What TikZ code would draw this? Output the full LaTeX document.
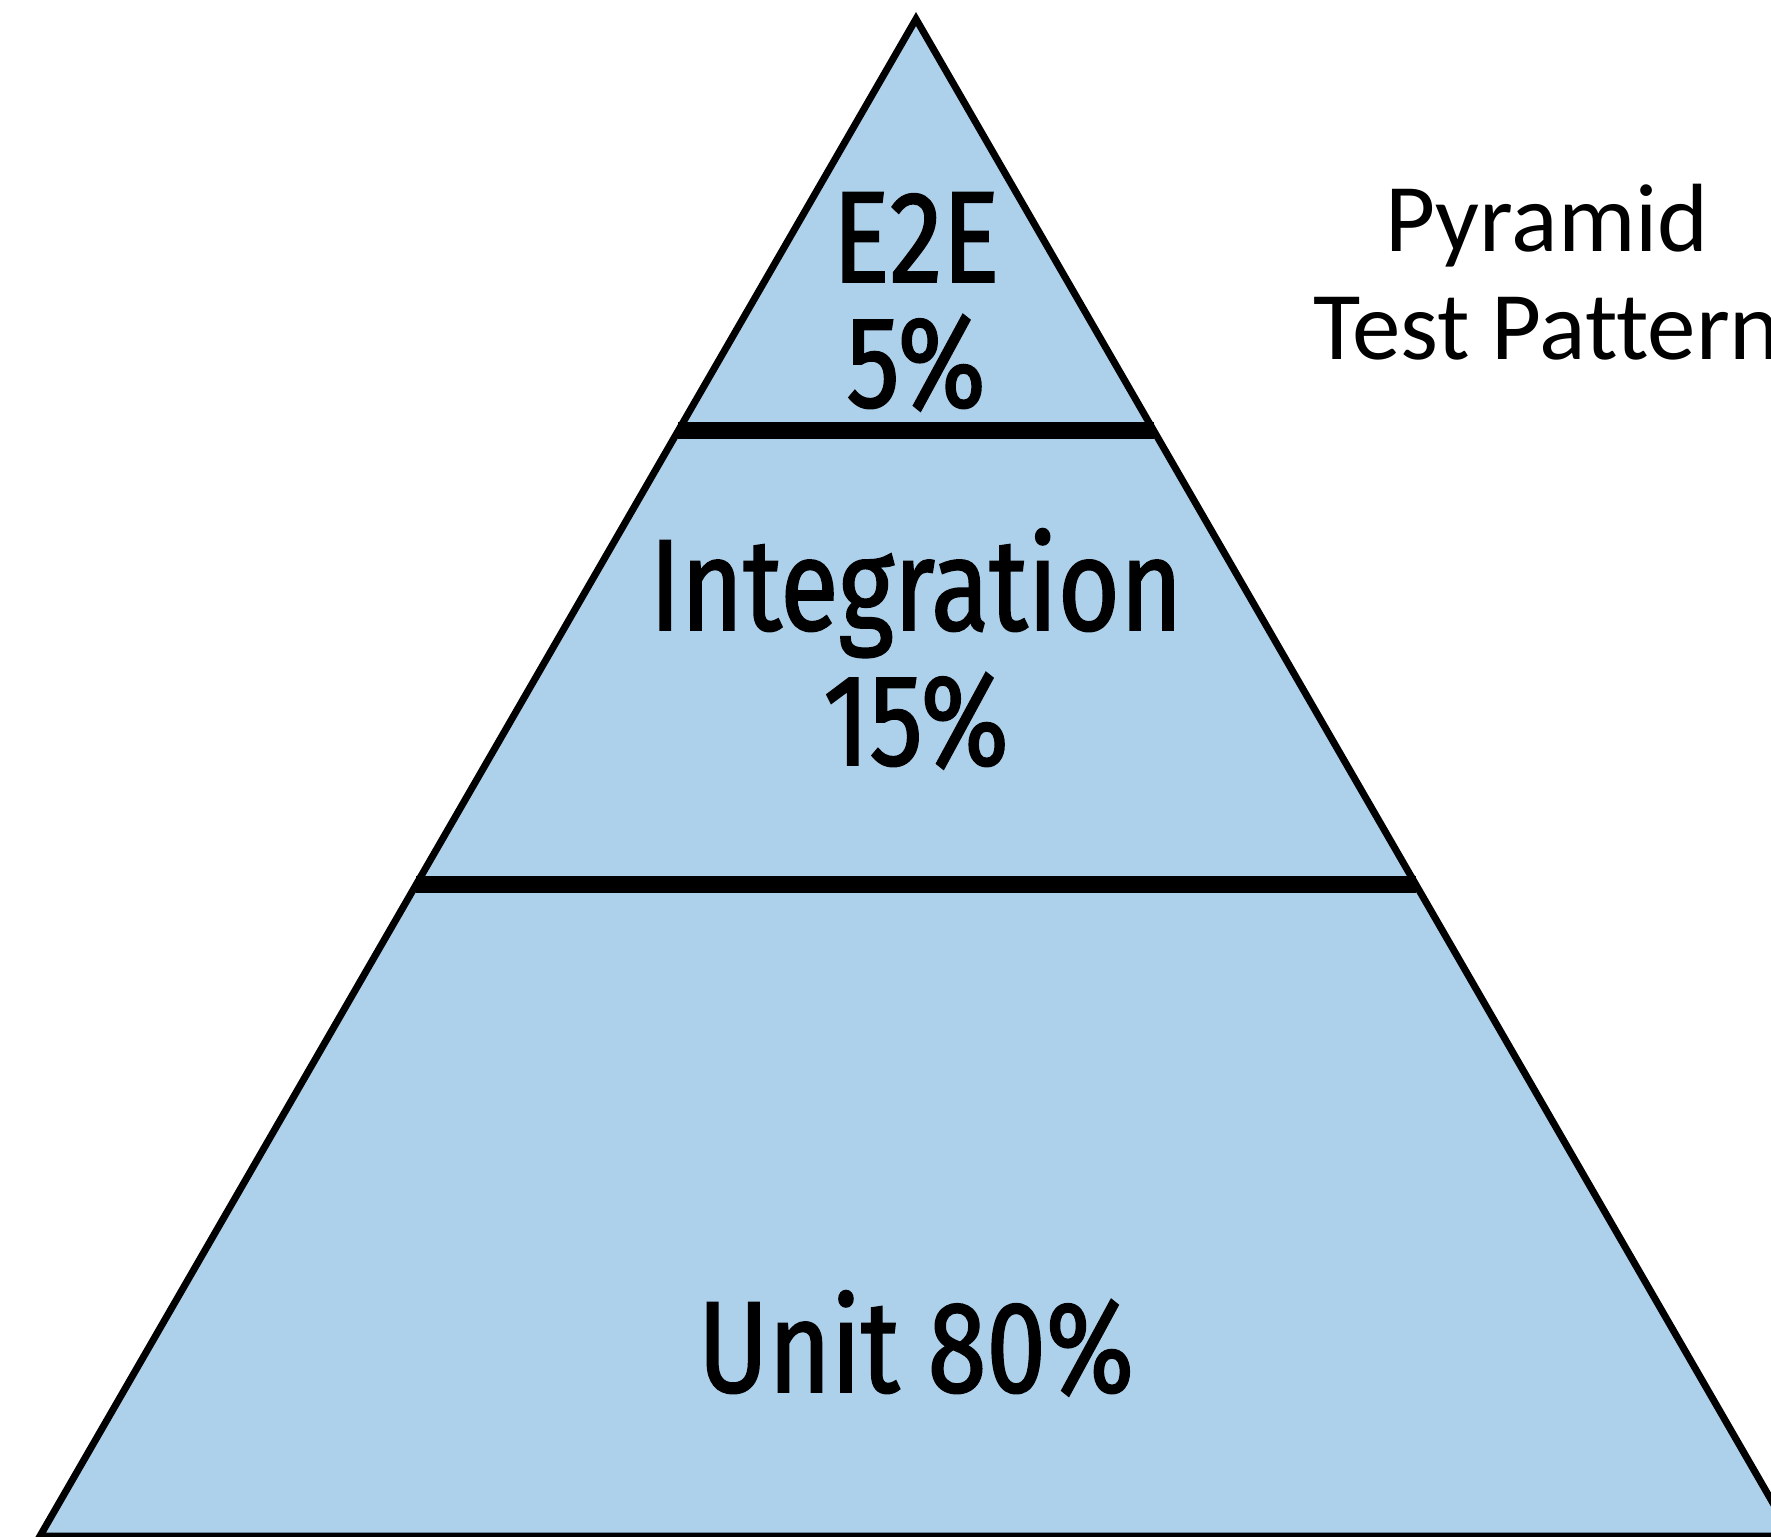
\documentclass[tikz,border=0pt]{standalone}
\usepackage{fontspec}
\setmainfont{Carlito}[Ligatures={NoCommon}]
\newfontfamily\levelfont[FakeStretch=0.82,FakeBold=1.4]{Fira Sans}
\usetikzlibrary{calc}
\definecolor{pyr_blue}{HTML}{AED1EB}
\tikzset{
  layer/.style={fill=pyr_blue,draw=black,line width=3.5pt,line join=miter},
  divider/.style={draw=black,line width=8.5pt},
  level/.style={font=\levelfont\fontsize{65}{66}\selectfont,anchor=base,inner sep=0pt},
  caption/.style={font=\fontsize{48.5}{54}\selectfont,anchor=base,inner sep=0pt},
}

\begin{document}
\begin{tikzpicture}[x=0.5pt,y=-0.5pt]
	\clip (0,0) rectangle (1771,1536);
	\fill[white] (0,0) rectangle (1771,1536);
	% pyramid outline
	\coordinate (top) at (916,19);
	\coordinate (bl) at (40,1536);
	\coordinate (br) at (1792,1536);
	\draw[layer] (top) -- (bl) -- (br) -- cycle;
	% layer borders
	\coordinate (d1l) at ($(top)!0.2712!(bl)$);
	\coordinate (d1r) at ($(top)!0.2712!(br)$);
	\coordinate (d2l) at ($(top)!0.5706!(bl)$);
	\coordinate (d2r) at ($(top)!0.5706!(br)$);
	\draw[divider] (d1l) -- (d1r);
	\draw[divider] (d2l) -- (d2r);
	% labels
	\node[level] (e2e) at (916,282) {E2E};
	\node[level] (e2ep) at (916,407) {5\%};
	\node[level] (integ) at (916,630) {Integration};
	\node[level] (integp) at (916,765) {15\%};
	\node[level] (unit) at (916,1392) {Unit 80\%};
	\node[caption] (cap1) at (1547,251) {Pyramid};
	\node[caption] (cap2) at (1547,359) {Test Pattern};
\end{tikzpicture}
\end{document}
